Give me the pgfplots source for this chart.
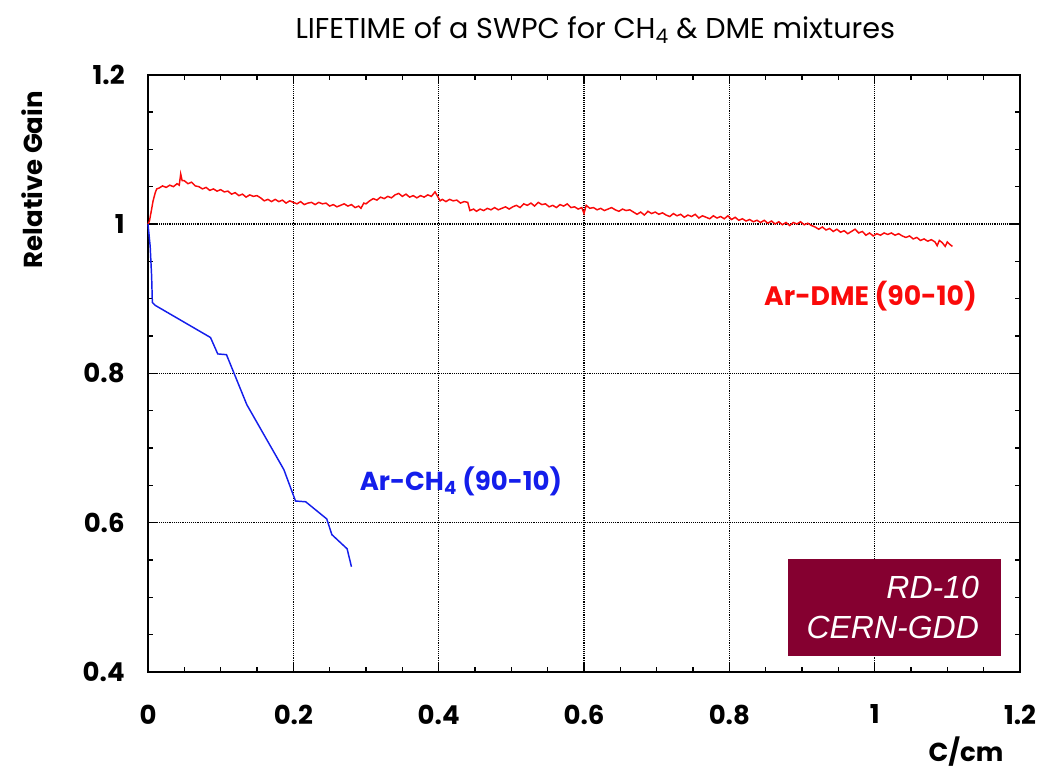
\documentclass[border=0pt]{standalone}
\usepackage{fontspec}
\setmainfont{Poppins}
\newfontfamily\boxfont{Liberation Sans}
\usepackage{pgfplots}
\pgfplotsset{compat=1.18}

\definecolor{dmered}{RGB}{250,10,10}
\definecolor{ch4blue}{RGB}{20,30,235}
\definecolor{gddbox}{RGB}{133,0,48}

\begin{document}
\begin{tikzpicture}
\useasboundingbox (-111pt,-78pt) rectangle (678pt,504pt);
\begin{axis}[
    at={(0pt,0pt)}, anchor=origin,
    scale only axis,
    width=654pt, height=448pt,
    xmin=0, xmax=1.2, ymin=0.4, ymax=1.2,
    xtick={0,0.2,...,1.2}, ytick={0.4,0.6,...,1.2},
    minor x tick num=3, minor y tick num=3,
    xticklabels={0,0.2,0.4,0.6,0.8,1,1.2},
    yticklabels={0.4,0.6,0.8,1,1.2},
    tick align=inside,
    major tick length=7pt, minor tick length=4pt,
    every tick/.style={black, line width=0.9pt},
    axis line style={black, line width=1.3pt},
    grid=major,
    major grid style={black, densely dotted, line width=0.9pt},
    /pgf/number format/assume math mode=true,
    ticklabel style={font=\fontsize{19.5}{22}\selectfont\bfseries},
    xticklabel style={yshift=-21pt},
    yticklabel style={xshift=-14pt},
    clip=false,
]
% Ar-DME (90-10)
\addplot[color=dmered, line width=1.1pt] coordinates {
(0.000,1.000) (0.002,1.004) (0.005,1.020) (0.007,1.031) (0.010,1.042)
(0.012,1.047) (0.015,1.048) (0.020,1.051) (0.025,1.049) (0.030,1.052)
(0.035,1.050) (0.040,1.054) (0.043,1.052) (0.045,1.067) (0.047,1.058)
(0.050,1.058) (0.055,1.054) (0.060,1.056) (0.065,1.051) (0.070,1.050)
(0.075,1.047) (0.080,1.049) (0.085,1.045) (0.090,1.047) (0.095,1.044)
(0.100,1.046) (0.105,1.043) (0.110,1.044) (0.115,1.040) (0.120,1.042)
(0.125,1.038) (0.130,1.040) (0.135,1.036) (0.140,1.039) (0.145,1.037)
(0.150,1.038) (0.155,1.035) (0.160,1.031) (0.165,1.033) (0.170,1.030)
(0.175,1.033) (0.180,1.030) (0.185,1.032) (0.190,1.028) (0.195,1.031)
(0.200,1.029) (0.205,1.027) (0.210,1.030) (0.215,1.026) (0.220,1.028)
(0.225,1.029) (0.230,1.026) (0.235,1.029) (0.240,1.027) (0.245,1.028)
(0.250,1.024) (0.255,1.026) (0.260,1.023) (0.265,1.025) (0.270,1.027)
(0.275,1.024) (0.280,1.026) (0.285,1.022) (0.290,1.024) (0.293,1.021)
(0.297,1.028) (0.300,1.027) (0.305,1.031) (0.310,1.034) (0.315,1.032)
(0.320,1.036) (0.325,1.034) (0.330,1.037) (0.335,1.035) (0.340,1.039)
(0.345,1.041) (0.350,1.037) (0.355,1.040) (0.360,1.036) (0.365,1.038)
(0.370,1.035) (0.375,1.038) (0.380,1.036) (0.385,1.039) (0.390,1.037)
(0.395,1.043) (0.398,1.038) (0.402,1.031) (0.405,1.033) (0.410,1.030)
(0.415,1.033) (0.420,1.031) (0.425,1.032) (0.430,1.028) (0.435,1.030)
(0.440,1.029) (0.443,1.018) (0.448,1.020) (0.452,1.017) (0.457,1.020)
(0.462,1.018) (0.467,1.021) (0.472,1.019) (0.477,1.022) (0.482,1.019)
(0.487,1.021) (0.492,1.023) (0.497,1.020) (0.502,1.023) (0.507,1.025)
(0.512,1.022) (0.517,1.027) (0.522,1.025) (0.527,1.028) (0.532,1.024)
(0.537,1.029) (0.542,1.026) (0.547,1.027) (0.552,1.023) (0.557,1.025)
(0.562,1.022) (0.567,1.026) (0.572,1.024) (0.577,1.027) (0.582,1.022)
(0.587,1.023) (0.592,1.020) (0.597,1.022) (0.600,1.014) (0.603,1.025)
(0.608,1.021) (0.613,1.022) (0.618,1.019) (0.623,1.021) (0.628,1.018)
(0.633,1.020) (0.638,1.022) (0.643,1.019) (0.648,1.017) (0.653,1.020)
(0.658,1.018) (0.663,1.019) (0.668,1.016) (0.673,1.013) (0.678,1.016)
(0.683,1.012) (0.688,1.017) (0.693,1.014) (0.698,1.016) (0.703,1.013)
(0.708,1.015) (0.713,1.012) (0.718,1.010) (0.723,1.014) (0.728,1.011)
(0.733,1.013) (0.738,1.009) (0.743,1.012) (0.748,1.010) (0.753,1.013)
(0.758,1.008) (0.763,1.011) (0.768,1.009) (0.773,1.007) (0.778,1.011)
(0.783,1.008) (0.788,1.010) (0.793,1.007) (0.798,1.011) (0.803,1.006)
(0.808,1.009) (0.813,1.005) (0.818,1.007) (0.823,1.004) (0.828,1.006)
(0.833,1.003) (0.838,1.005) (0.843,1.002) (0.848,1.005) (0.853,1.001)
(0.858,1.004) (0.863,1.000) (0.868,1.003) (0.873,0.999) (0.878,1.002)
(0.883,0.998) (0.888,1.002) (0.893,1.000) (0.898,1.003) (0.903,0.999)
(0.908,1.001) (0.913,0.998) (0.918,0.996) (0.923,0.993) (0.928,0.996)
(0.933,0.992) (0.938,0.994) (0.943,0.990) (0.948,0.993) (0.953,0.989)
(0.958,0.991) (0.963,0.987) (0.968,0.990) (0.973,0.993) (0.978,0.988)
(0.983,0.990) (0.988,0.985) (0.993,0.988) (0.998,0.984) (1.003,0.987)
(1.008,0.985) (1.013,0.988) (1.018,0.986) (1.023,0.988) (1.028,0.985)
(1.033,0.987) (1.038,0.984) (1.043,0.982) (1.048,0.984) (1.053,0.980)
(1.058,0.982) (1.063,0.978) (1.068,0.980) (1.073,0.977) (1.078,0.979)
(1.083,0.976) (1.086,0.971) (1.089,0.978) (1.093,0.975) (1.097,0.970)
(1.100,0.976) (1.103,0.973) (1.107,0.970)
};
% Ar-CH4 (90-10)
\addplot[color=ch4blue, line width=1.1pt] coordinates {
(0.000,1.000) (0.003,0.970) (0.005,0.930) (0.006,0.895) (0.010,0.891)
(0.086,0.848) (0.096,0.826) (0.108,0.825) (0.136,0.758) (0.187,0.671)
(0.203,0.629) (0.217,0.628) (0.246,0.605) (0.253,0.584) (0.274,0.565)
(0.280,0.541)
};
\node[font=\fontsize{20}{24}\selectfont\bfseries, text=dmered, anchor=east]
    at (axis cs:1.147,0.903) {Ar-DME (90-10)};
\node[font=\fontsize{19.5}{24}\selectfont\bfseries, text=ch4blue, anchor=west]
    at (axis cs:0.285,0.655) {Ar-CH\textsubscript{4} (90-10)};
\fill[gddbox] (axis cs:0.881,0.4215) rectangle (axis cs:1.174,0.5517);
\node[font=\boxfont\itshape\fontsize{24}{30}\selectfont, text=white, align=right, anchor=east]
    at (axis cs:1.150,0.4866) {RD-10\\CERN-GDD};
\node[font=\fontsize{21.5}{26}\selectfont] at (rel axis cs:0.513,1.075)
    {LIFETIME of a SWPC for CH\textsubscript{4} \& DME mixtures};
\node[font=\fontsize{19.5}{24}\selectfont\bfseries, rotate=90] at (rel axis cs:-0.133,0.824)
    {Relative Gain};
\node[font=\fontsize{19.5}{24}\selectfont\bfseries] at (rel axis cs:0.938,-0.134) {C/cm};
\end{axis}
\end{tikzpicture}
\end{document}
